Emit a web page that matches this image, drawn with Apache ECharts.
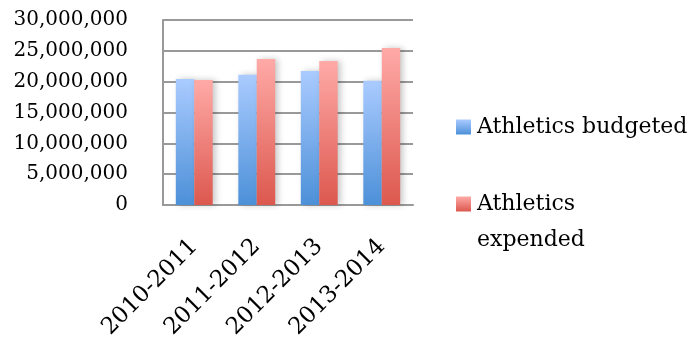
<!DOCTYPE html>
<html>
<head>
<meta charset="utf-8">
<script src="https://cdn.jsdelivr.net/npm/echarts@6/dist/echarts.min.js"></script>
<style>
  html, body { margin: 0; padding: 0; background: #fff; }
  #chart { width: 692px; height: 342px; }
</style>
</head>
<body>
<div id="chart"></div>
<script>
// Seasons on the category axis
const seasons = ['2010-2011', '2011-2012', '2012-2013', '2013-2014'];
// Athletics money per season
const budgeted = [20430000, 21120000, 21730000, 20150000];
const expended = [20270000, 23680000, 23350000, 25460000];
// Value axis ticks
const yMin = 0;
const yMax = 30000000;
const yStep = 5000000;
// Legend names; the second one wraps onto two lines
const seriesNames = ['Athletics budgeted', 'Athletics expended'];

const FONT = 'DejaVu Serif';

function vGrad(top, bottom) {
  return new echarts.graphic.LinearGradient(0, 0, 0, 1, [
    { offset: 0, color: top },
    { offset: 1, color: bottom }
  ]);
}

const chart = echarts.init(document.getElementById('chart'), null, { renderer: 'canvas' });

const barShadow = {
  shadowBlur: 6,
  shadowOffsetX: 3,
  shadowOffsetY: 0,
  shadowColor: 'rgba(0,0,0,0.22)'
};

const legendText = { fontFamily: FONT, fontSize: 22, lineHeight: 28, color: '#000' };

// The second legend entry shows its first word next to the swatch,
// the rest goes on the line below.
const expWords = seriesNames[1].split(' ');

chart.setOption({
  animation: false,
  backgroundColor: '#ffffff',
  grid: { left: 163, right: 279, top: 20, bottom: 137, containLabel: false },
  legend: [
    {
      orient: 'vertical',
      left: 456,
      top: 109,
      padding: 0,
      itemWidth: 15,
      itemHeight: 15,
      icon: 'rect',
      data: [seriesNames[0]],
      textStyle: Object.assign({ padding: [8, 0, 0, 1] }, legendText)
    },
    {
      orient: 'vertical',
      left: 456,
      top: 184,
      padding: 0,
      itemWidth: 15,
      itemHeight: 15,
      icon: 'rect',
      data: [seriesNames[1]],
      formatter: function () { return expWords[0]; },
      textStyle: Object.assign({ padding: [12, 0, 0, 1] }, legendText)
    }
  ],
  graphic: [
    {
      type: 'text',
      left: 477,
      top: 229,
      silent: true,
      style: {
        text: expWords.slice(1).join(' '),
        font: '22px "DejaVu Serif"',
        fill: '#000'
      }
    }
  ],
  xAxis: {
    type: 'category',
    data: seasons,
    axisLine: { show: true, lineStyle: { color: '#999', width: 2 } },
    axisTick: { show: false },
    axisLabel: {
      rotate: 45,
      interval: 0,
      margin: 38,
      fontFamily: FONT,
      fontSize: 23,
      color: '#000'
    }
  },
  yAxis: {
    type: 'value',
    min: yMin,
    max: yMax,
    interval: yStep,
    axisLine: { show: true, lineStyle: { color: '#999', width: 2 } },
    axisTick: { show: false },
    splitLine: { show: true, lineStyle: { color: '#999', width: 2 } },
    axisLabel: {
      margin: 35,
      fontFamily: FONT,
      fontSize: 20,
      color: '#000',
      padding: [5, 0, 0, 0],
      formatter: function (v) { return v.toLocaleString('en-US'); }
    }
  },
  series: [
    {
      name: seriesNames[0],
      type: 'bar',
      data: budgeted,
      barGap: '0%',
      barCategoryGap: '41%',
      itemStyle: Object.assign({ color: vGrad('#aacbff', '#4c90d8') }, barShadow)
    },
    {
      name: seriesNames[1],
      type: 'bar',
      data: expended,
      barGap: '0%',
      barCategoryGap: '41%',
      itemStyle: Object.assign({ color: vGrad('#ffaaa7', '#dc584e') }, barShadow)
    }
  ]
});
</script>
</body>
</html>
